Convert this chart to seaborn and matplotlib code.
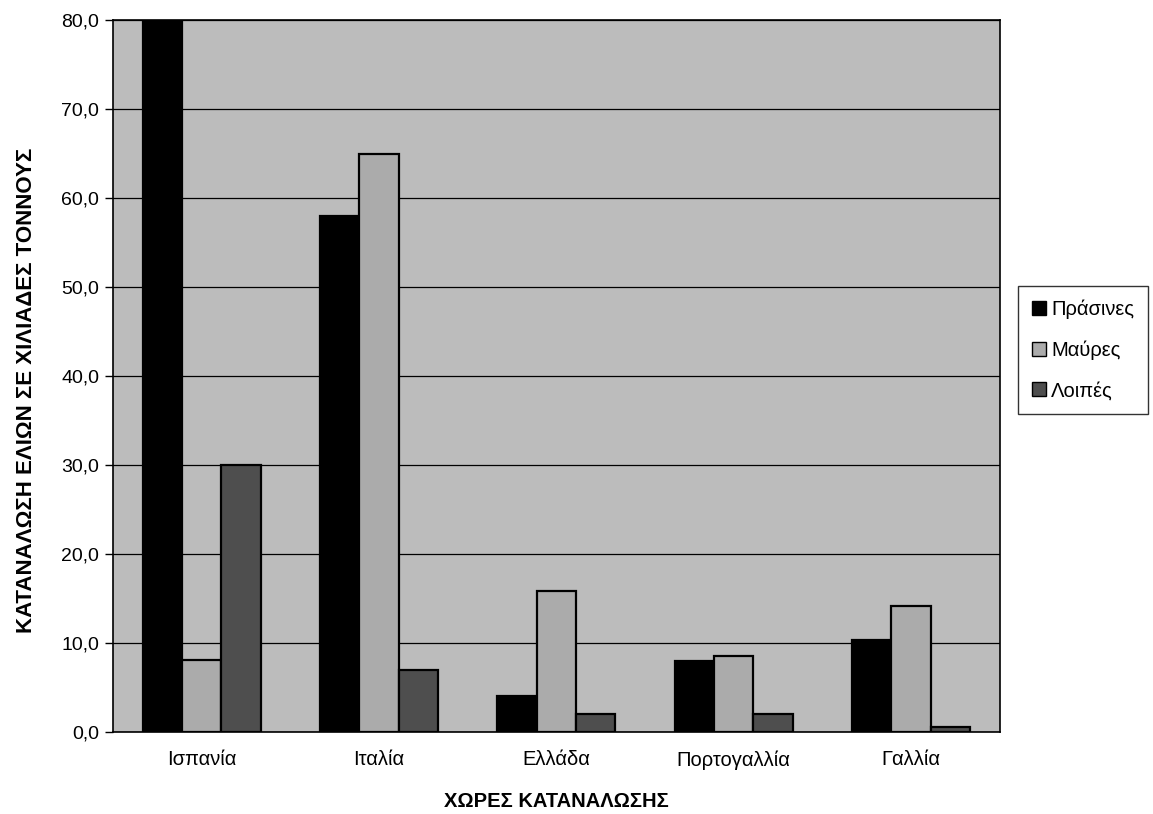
import matplotlib
matplotlib.use("Agg")
import matplotlib.pyplot as plt
import seaborn as sns
import pandas as pd
from matplotlib.ticker import FixedLocator, FuncFormatter
from matplotlib.patches import Patch

countries = ["Ισπανία", "Ιταλία", "Ελλάδα", "Πορτογαλλία", "Γαλλία"]
series = ["Πράσινες", "Μαύρες", "Λοιπές"]
prasines = [80.0, 58.0, 4.0, 8.0, 10.3]
mavres = [8.1, 65.0, 15.9, 8.5, 14.2]
loipes = [30.0, 7.0, 2.0, 2.0, 0.6]
yticks = [0, 10, 20, 30, 40, 50, 60, 70, 80]

rows = []
for name, vals in zip(series, [prasines, mavres, loipes]):
    for c, v in zip(countries, vals):
        rows.append({"country": c, "type": name, "value": v})
df = pd.DataFrame(rows)

sns.set_theme(style="white")
plt.rcParams["font.family"] = ["Liberation Sans", "DejaVu Sans"]
plt.rcParams["text.color"] = "black"
plt.rcParams["axes.labelcolor"] = "black"
plt.rcParams["xtick.color"] = "black"
plt.rcParams["ytick.color"] = "black"

fig = plt.figure(figsize=(11.53, 8.14), dpi=100)
ax = fig.add_axes([0.098, 0.1007, 0.769, 0.8747])
ax.set_facecolor("#bcbcbc")

palette = {"Πράσινες": "#000000", "Μαύρες": "#ababab", "Λοιπές": "#4e4e4e"}
sns.barplot(data=df, x="country", y="value", hue="type", order=countries,
            hue_order=series, palette=palette, width=0.667, gap=0,
            edgecolor="black", linewidth=1.6, saturation=1, ax=ax, legend=False,
            zorder=3)

ax.set_ylim(0, 80)
ax.set_xlim(-0.5, 4.5)
ax.yaxis.set_major_locator(FixedLocator(yticks))
ax.yaxis.set_major_formatter(FuncFormatter(lambda v, p: f"{v:.1f}".replace(".", ",")))
ax.grid(axis="y", color="black", linewidth=0.9, zorder=1)
ax.set_axisbelow(True)
for s in ax.spines.values():
    s.set_color("black")
    s.set_linewidth(1.2)

ax.set_xticks(range(len(countries)))
ax.set_xticklabels(countries, fontsize=14.5)
ax.set_xticks([i - 0.5 for i in range(len(countries) + 1)], minor=True)
ax.tick_params(axis="x", which="major", length=0, pad=13)
ax.tick_params(axis="x", which="minor", length=6, direction="inout", color="black", width=1)
ax.tick_params(axis="y", which="major", length=6, direction="out", color="black", width=1,
               labelsize=14, left=True, pad=4)

ax.set_xlabel("ΧΩΡΕΣ ΚΑΤΑΝΑΛΩΣΗΣ", fontsize=14.5, fontweight="bold", labelpad=16)
ax.set_ylabel("ΚΑΤΑΝΑΛΩΣΗ ΕΛΙΩΝ ΣΕ ΧΙΛΙΑΔΕΣ ΤΟΝΝΟΥΣ", fontsize=16, fontweight="bold")
ax.yaxis.set_label_coords(-0.086, 0.48)

handles = [Patch(facecolor=palette[s], edgecolor="black", linewidth=1) for s in series]
leg = fig.legend(handles, series, loc="center left", bbox_to_anchor=(0.883, 0.57),
                 frameon=True, fancybox=False, fontsize=14.5, handlelength=0.7,
                 handleheight=0.7, handletextpad=0.25, labelspacing=1.05,
                 borderpad=0.7, borderaxespad=0, edgecolor="black")
leg.get_frame().set_linewidth(1)

fig.savefig("out.png", dpi=100, facecolor="white")
